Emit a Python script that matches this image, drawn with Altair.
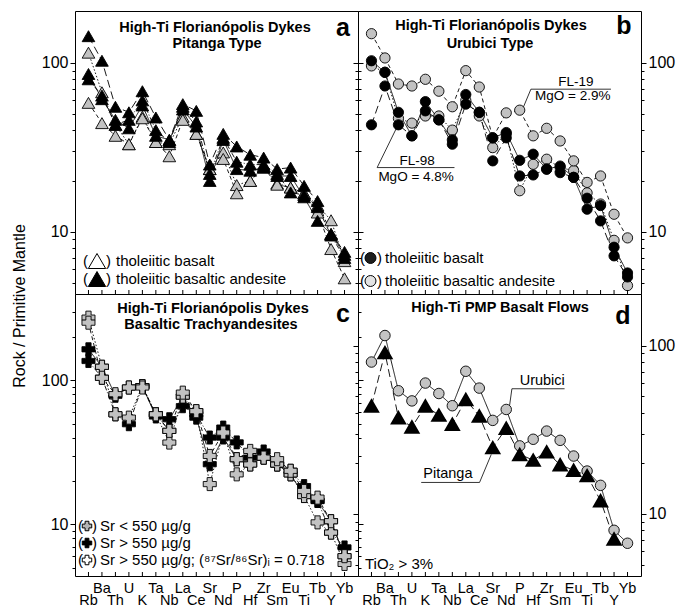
import altair as alt
import pandas as pd

ELEMENTS = ["Rb", "Ba", "Th", "U", "K", "Ta", "Nb", "La", "Ce", "Sr",
            "Nd", "P", "Hf", "Zr", "Sm", "Eu", "Ti", "Tb", "Y", "Yb"]

# ---- (a) Pitanga type dykes ----
A_SERIES = ["basalt 1", "basalt 2", "andesite 1", "andesite 2", "andesite 3"]
A_BASALT_1 = [115, 67, 43, 33, 48, 34, 33, 48, 38, 23.5, 29.5, 18.9, 20, 24.5, 19.3, 18.3, 16.9, 14.3, 11.7, 6.7]
A_BASALT_2 = [58, 44, 37, 33, 47, 34, 28, 46, 38, 23.5, 27, 16.9, 20, 24, 19, 18.3, 16.9, 13, 7.9, 5.3]
A_ANDESITE_1 = [144, 103, 55, 51, 68, 47.5, 35, 57, 52, 25, 38, 32, 28.6, 27.5, 23.5, 24, 18.7, 15.2, 9.7, 7.6]
A_ANDESITE_2 = [86, 61, 46, 41, 56, 37, 35, 53, 42, 20, 35, 23.5, 23, 24, 21.4, 21.4, 16, 11.6, 9.7, 7.3]
A_ANDESITE_3 = [80, 64, 43, 46, 60, 40, 34, 55, 45, 22, 36, 26, 25, 25, 22, 17.1, 16.5, 14, 9.5, 7.0]

# ---- (b) Urubici type dykes ----
B_SERIES = ["basalt", "FL-19", "andesite 2", "FL-98"]
B_BASALT = [96, 88, 47, 44, 48.5, 48.5, 40, 60, 48.5, 31.5, 38, 17.5, 25.1, 26.9, 24, 23, 17, 14.6, 8.9, 4.8]
B_FL19 = [149, 107, 75, 73, 80, 68, 55, 90, 72, 36, 50.6, 52.5, 37, 41, 34.5, 26.3, 19.6, 21.4, 12.7, 9.2]
B_ANDESITE_2 = [103, 88, 51, 37, 59, 46, 35, 65, 51, 36, 38.7, 26.5, 28.8, 23.5, 24.5, 21, 13.6, 14.3, 8.1, 5.7]
B_FL98 = [43, 73, 43, 37, 52, 46, 33, 57, 51, 26.3, 36, 21.4, 21.7, 23.5, 22.4, 21, 15.8, 11.6, 7.2, 5.4]

# ---- (c) basaltic trachyandesites ----
C_SERIES = ["low Sr", "high Sr", "0.718 a", "0.718 b"]
C_LOW_SR = [164, 124, 78, 89, 91, 56, 53.6, 77, 55, 26.1, 40, 28.3, 26, 29, 26, 22.2, 15.7, 14.5, 10.5, 6.0]
C_HIGH_SR = [136, 104, 58, 49.5, 91, 58, 44.5, 66, 58, 40, 46.9, 37, 29, 32, 26, 23.5, 18.4, 14.5, 8.75, 6.9]
C_0718_A = [272, 124, 58, 55, 91, 58, 36.9, 77, 61, 19, 43.3, 22.2, 26, 29, 26, 22.2, 15.7, 10.3, 8.75, 5.3]
C_0718_B = [251, 104, 80, 89, 89, 58, 44.5, 82, 61, 29.8, 43.3, 28.3, 32.3, 29, 28.3, 23.5, 17, 15.3, 10.5, 6.0]

# ---- (d) PMP basalt flows ----
D_SERIES = ["Pitanga", "Urubici"]
D_PITANGA = [43.8, 91, 37.3, 32.9, 43.8, 38.7, 34.1, 47.9, 38.2, 24.8, 32.3, 22.6, 20.9, 23.4, 19.6, 18.2, 16.9, 12, 7.1, None]
D_URUBICI = [80, 115, 54, 47, 60, 52, 44, 70.5, 56, 36, 41.8, 25.4, 27.8, 31.1, 27.4, 22.1, 18, 14.8, 8, 6.7]

# annotation anchors in data units (element index, normalised value)
B_FL19_LABEL = [("FL-19", 15.17, 77.5), ("MgO = 2.9%", 14.94, 63.8)]
B_FL19_LINES = [(11.83, 17.77, 69.9, 69.9), (11.83, 11.28, 69.9, 54.9)]
B_FL98_LABEL = [("FL-98", 3.39, 26.4), ("MgO = 4.8%", 3.31, 21.2)]
B_FL98_LINES = [(0.42, 6.16, 24.0, 24.0), (0.42, 1.9, 24.0, 41.8)]
D_LABELS = [("Urubici", 12.67, 61.5), ("Pitanga", 5.67, 17.3)]
D_LINES = [(10.42, 14.33, 55.5, 55.5), (10.42, 10.25, 55.5, 44.2),
           (3.69, 8.02, 15.4, 15.4), (8.02, 8.89, 15.4, 22.6)]

FONT = "Liberation Sans"
W = 283
H_TOP = 283
H_BOT = 282
DOM_ABD = [4.28, 203]
DOM_C = [4.37, 397]
TICKS_ABD = [5, 6, 7, 8, 9, 10, 20, 30, 40, 50, 60, 70, 80, 90, 100]
TICKS_C = TICKS_ABD + [200, 300]
MAJOR = "datum.value == 10 || datum.value == 100"
X_SCALE = alt.Scale(domain=[-1, 20], nice=False, zero=False)


def xq():
    return alt.X("i:Q", scale=X_SCALE, axis=None)


def yq(domain, axis=None):
    return alt.Y("v:Q", scale=alt.Scale(type="log", domain=domain, nice=False), axis=axis)


def y_axis(orient, show_labels, ticks):
    return alt.Axis(
        orient=orient, values=ticks, title=None, grid=False, domain=False,
        labels=show_labels, labelExpr="(" + MAJOR + ") ? format(datum.value, 'd') : ''",
        labelFont=FONT, labelFontSize=16, labelColor="black",
        labelPadding=2, labelOverlap=False, labelFlush=False,
        tickColor="black", tickWidth=1,
        tickSize={"condition": {"test": MAJOR, "value": 5}, "value": 3},
    )


def long_df(names, lists):
    rows = []
    for name, vals in zip(names, lists):
        for i, (el, v) in enumerate(zip(ELEMENTS, vals)):
            if v is not None:
                rows.append({"series": name, "i": i, "el": el, "v": v})
    return pd.DataFrame(rows)


def ptext(txt, x, y, size=15, weight="normal", align="left", angle=None):
    kw = dict(font=FONT, fontSize=size, fontWeight=weight, align=align,
              baseline="middle", color="black")
    if angle is not None:
        kw["angle"] = angle
    return alt.Chart(pd.DataFrame({"t": [txt]})).mark_text(**kw).encode(
        text="t:N", x=alt.value(x), y=alt.value(y))


def psym(shape, fill, size, x, y):
    return alt.Chart(pd.DataFrame({"s": [shape]})).mark_point(
        shape=shape, filled=True, fill=fill, stroke="black", strokeWidth=1,
        size=size, opacity=1).encode(x=alt.value(x), y=alt.value(y))


def dtexts(items, domain, size=13.5):
    df = pd.DataFrame({"t": [a for a, _, _ in items], "i": [b for _, b, _ in items],
                       "v": [c for _, _, c in items]})
    return alt.Chart(df).mark_text(font=FONT, fontSize=size, baseline="middle",
                                   color="black").encode(text="t:N", x=xq(), y=yq(domain))


def dsegs(items, domain):
    df = pd.DataFrame({"i": [a for a, _, _, _ in items], "i2": [b for _, b, _, _ in items],
                       "v": [c for _, _, c, _ in items], "v2": [d for _, _, _, d in items]})
    return alt.Chart(df).mark_rule(color="black", strokeWidth=0.8).encode(
        x=xq(), x2="i2:Q", y=yq(domain), y2="v2:Q")


EL_DF = pd.DataFrame({"i": list(range(len(ELEMENTS))), "el": ELEMENTS,
                      "row": [k % 2 for k in range(len(ELEMENTS))]})


def xticks(H):
    return alt.Chart(EL_DF).mark_rule(color="black", strokeWidth=1).encode(
        x=xq(), y=alt.value(H), y2=alt.value(H - 4))


def xlabels(H):
    top = alt.Chart(EL_DF).transform_filter("datum.row == 1").mark_text(
        font=FONT, fontSize=14.5, baseline="middle", color="black").encode(
        x=xq(), y=alt.value(H + 13), text="el:N")
    bot = alt.Chart(EL_DF).transform_filter("datum.row == 0").mark_text(
        font=FONT, fontSize=14.5, baseline="middle", color="black").encode(
        x=xq(), y=alt.value(H + 25), text="el:N")
    return [top, bot]


def spider(names, lists, fills, dashes, shape, size, domain, ticks, left_lab, right_lab, H):
    df = long_df(names, lists)
    lines = alt.Chart(df).mark_line(color="black", strokeWidth=0.9).encode(
        x=xq(), y=yq(domain, y_axis("left", left_lab, ticks)),
        detail="series:N",
        strokeDash=alt.StrokeDash("series:N", scale=alt.Scale(domain=names, range=dashes),
                                  legend=None))
    pts = alt.Chart(df).mark_point(shape=shape, size=size, filled=True, stroke="black",
                                   strokeWidth=0.9, opacity=1).encode(
        x=xq(), y=yq(domain, y_axis("right", right_lab, ticks)),
        fill=alt.Fill("series:N", scale=alt.Scale(domain=names, range=fills), legend=None))
    return [lines, pts, xticks(H)]


GRAY_T = "#c2c2c2"

# ---------- panel a ----------
a_layers = spider(A_SERIES, [A_BASALT_1, A_BASALT_2, A_ANDESITE_1, A_ANDESITE_2, A_ANDESITE_3],
                  [GRAY_T, GRAY_T, "black", "black", "black"],
                  [[1.5, 2], [4, 3], [8, 4], [1, 0], [5, 2, 1, 2]],
                  "triangle-up", 160, DOM_ABD, TICKS_ABD, True, False, H_TOP)
a_layers += [
    ptext("High-Ti Florianópolis Dykes", 140, 17, 14.5, "bold", "center"),
    ptext("Pitanga Type", 142, 33, 14.5, "bold", "center"),
    ptext("a", 268, 17, 25, "bold", "center"),
    ptext("(", 8, 250), psym("triangle-up", "white", 300, 22, 250), ptext(")", 31, 250),
    ptext("tholeiitic basalt", 41, 250),
    ptext("(", 8, 268), psym("triangle-up", "black", 300, 22, 268), ptext(")", 31, 268),
    ptext("tholeiitic basaltic andesite", 41, 268),
    ptext("Rock / Primitive Mantle", -55, 295, 16, "normal", "center", 270),
]
panel_a = alt.layer(*a_layers).resolve_axis(y="independent").properties(width=W, height=H_TOP)

# ---------- panel b ----------
b_layers = spider(B_SERIES, [B_BASALT, B_FL19, B_ANDESITE_2, B_FL98],
                  ["#1e1e1e", "#e3e3e3", "#e3e3e3", "#e3e3e3"],
                  [[6, 2, 2, 2], [2, 2], [5, 3], [1, 0]],
                  "circle", 105, DOM_ABD, TICKS_ABD, False, True, H_TOP)
b_layers += [
    dsegs(B_FL19_LINES + B_FL98_LINES, DOM_ABD),
    dtexts(B_FL19_LABEL + B_FL98_LABEL, DOM_ABD),
    ptext("High-Ti Florianópolis Dykes", 133, 15, 14.5, "bold", "center"),
    ptext("Urubici Type", 132, 33, 14.5, "bold", "center"),
    ptext("b", 266, 15, 25, "bold", "center"),
    ptext("(", 2, 247), psym("circle", "#1e1e1e", 120, 12.5, 247), ptext(")", 19, 247),
    ptext("tholeiitic basalt", 27, 247),
    ptext("(", 2, 270), psym("circle", "#e3e3e3", 120, 12.5, 270), ptext(")", 19, 270),
    ptext("tholeiitic basaltic andesite", 27, 270),
]
panel_b = alt.layer(*b_layers).resolve_axis(y="independent").properties(width=W, height=H_TOP)

# ---------- panel c ----------
c_layers = spider(C_SERIES, [C_LOW_SR, C_HIGH_SR, C_0718_A, C_0718_B],
                  ["#b4b4b4", "black", "white", "white"],
                  [[1, 0], [1, 0], [4, 2], [1, 0]],
                  "cross", 170, DOM_C, TICKS_C, True, False, H_BOT)
c_layers += xlabels(H_BOT)
c_layers += [
    ptext("High-Ti Florianópolis Dykes", 138, 15, 14.5, "bold", "center"),
    ptext("Basaltic Trachyandesites", 136, 31, 14.5, "bold", "center"),
    ptext("c", 268, 20, 25, "bold", "center"),
    ptext("(", 3, 232), psym("cross", "#b4b4b4", 90, 12, 232), ptext(")", 17, 232),
    ptext("Sr < 550 µg/g", 25, 232),
    ptext("(", 3, 249), psym("cross", "black", 90, 12, 249), ptext(")", 17, 249),
    ptext("Sr > 550 µg/g", 25, 249),
    ptext("(", 3, 266), psym("cross", "white", 90, 12, 266), ptext(")", 17, 266),
    ptext("Sr > 550 µg/g; (⁸⁷Sr/⁸⁶Sr)ᵢ = 0.718", 25, 266),
]
panel_c = alt.layer(*c_layers).resolve_axis(y="independent").properties(width=W, height=H_BOT)

# ---------- panel d ----------
d_layers = spider(D_SERIES, [D_PITANGA, D_URUBICI],
                  ["black", "#c4c4c4"],
                  [[2, 2], [1, 0]],
                  "circle", 105, DOM_ABD, TICKS_ABD, False, True, H_BOT)
d_tri = alt.Chart(long_df(["Pitanga"], [D_PITANGA])).mark_point(
    shape="triangle-up", size=175, filled=True, fill="black", stroke="black", opacity=1).encode(
    x=xq(), y=yq(DOM_ABD))
d_layers[1] = alt.Chart(long_df(["Urubici"], [D_URUBICI])).mark_point(
    shape="circle", size=110, filled=True, fill="#c4c4c4", stroke="black",
    strokeWidth=0.9, opacity=1).encode(
    x=xq(), y=yq(DOM_ABD, y_axis("right", True, TICKS_ABD)))
d_layers.insert(2, d_tri)
d_layers += xlabels(H_BOT)
d_layers += [
    dsegs(D_LINES, DOM_ABD),
    dtexts(D_LABELS, DOM_ABD, 14.5),
    ptext("High-Ti PMP Basalt Flows", 142, 14, 14.5, "bold", "center"),
    ptext("d", 265, 22, 25, "bold", "center"),
    ptext("TiO₂ > 3%", 7, 270, 15),
]
panel_d = alt.layer(*d_layers).resolve_axis(y="independent").properties(width=W, height=H_BOT)

chart = alt.concat(panel_a, panel_b, panel_c, panel_d, columns=2, spacing=0,
                   bounds="flush").properties(
    padding={"left": 11, "top": 10, "right": 5, "bottom": 0},
    background="white",
).configure_view(stroke="black", strokeWidth=1)

chart.save("out.html", embed_options={"renderer": "svg", "actions": False})
